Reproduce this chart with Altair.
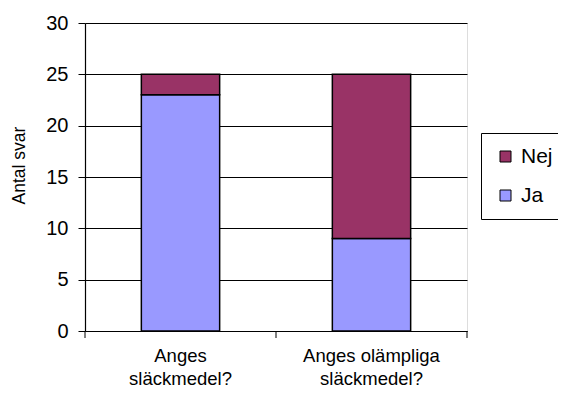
import altair as alt
import pandas as pd

categories = ["Anges|släckmedel?", "Anges olämpliga|släckmedel?"]
ja_values = [23, 9]
nej_values = [2, 16]
series = ["Nej", "Ja"]
colors = ["#993366", "#9999FF"]

rows = []
for c, j, n in zip(categories, ja_values, nej_values):
    rows.append({"kategori": c, "svar": "Ja", "antal": j, "ordning": 0})
    rows.append({"kategori": c, "svar": "Nej", "antal": n, "ordning": 1})
df = pd.DataFrame(rows)

FONT = "Liberation Sans"

bars = alt.Chart(df).mark_bar(stroke="black", strokeWidth=1.5).encode(
    x=alt.X("kategori:N", sort=categories,
            scale=alt.Scale(paddingInner=0.59, paddingOuter=0.295),
            axis=alt.Axis(title=None, labelAngle=0, ticks=False,
                          labelExpr="split(datum.label, '|')",
                          labelFontSize=18.5, labelFont=FONT, labelColor="black",
                          labelPadding=15, labelLineHeight=23,
                          domainColor="black", domainWidth=1.2, grid=False)),
    y=alt.Y("antal:Q", stack="zero",
            scale=alt.Scale(domain=[0, 30], nice=False),
            axis=alt.Axis(title="Antal svar", values=[0, 5, 10, 15, 20, 25, 30],
                          titleFont=FONT, titleFontSize=17.5, titleFontWeight="normal",
                          titleColor="black", titleX=-57, titleY=142,
                          labelFontSize=20, labelFont=FONT, labelColor="black",
                          labelPadding=10, tickSize=7, tickColor="black",
                          domainColor="black", domainWidth=1.2,
                          grid=True, gridColor="black", gridWidth=1)),
    color=alt.Color("svar:N", scale=alt.Scale(domain=series, range=colors),
                    legend=alt.Legend(title=None, orient="none", legendX=396, legendY=110,
                                      symbolType="square", symbolSize=121,
                                      symbolStrokeColor="black", symbolStrokeWidth=1,
                                      symbolOffset=1,
                                      labelFont=FONT, labelFontSize=21, labelColor="black",
                                      strokeColor="black", padding=13, rowPadding=17,
                                      labelOffset=5, symbolOpacity=1)),
    order=alt.Order("ordning:Q", sort="ascending"),
)

ticks = alt.Chart(pd.DataFrame({"p": [0, 191, 382]})).mark_rule(color="black", strokeWidth=1).encode(
    x=alt.X("p:Q", scale=alt.Scale(domain=[0, 382], range=[0, 382]), axis=None),
    y=alt.value(308), y2=alt.value(315),
)

chart = alt.layer(ticks, bars).resolve_scale(x="independent").properties(
    width=382, height=308,
    padding={"left": 77, "top": 15, "right": 91, "bottom": 61},
    autosize="none",
).configure_view(stroke="#999999", strokeWidth=1.5).configure(background="white")

chart.save("out.html", embed_options={"renderer": "svg", "actions": False})
